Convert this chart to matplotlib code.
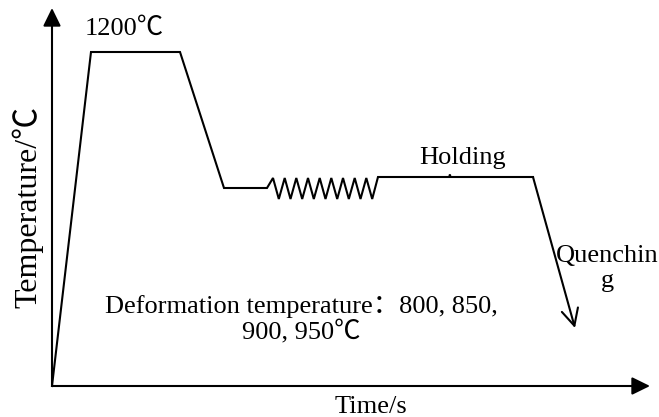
import matplotlib.pyplot as plt
from matplotlib.patches import Rectangle

# schematic thermal route, drawn in canvas units (x right, y down)
route_t = [52, 91, 180, 224, 267,
           273, 278.8, 284.7, 290.5, 296.3, 302.2, 308, 313.8, 319.7, 325.5,
           331.3, 337.2, 343, 348.8, 354.7, 360.5, 366.3, 372.2, 378,
           533]
route_T = [386, 52, 52, 188, 188,
           178, 199, 178, 199, 178, 199, 178, 199, 178, 199,
           178, 199, 178, 199, 178, 199, 178, 199, 177,
           177]

quench_start = (533, 177)
quench_end = (575, 328)

origin = (52, 386)
t_axis_end = (650, 386)
T_axis_end = (52, 8)

serif = ['Liberation Serif', 'Noto Sans CJK SC']
fs = 19

fig = plt.figure(figsize=(6.59, 4.17), dpi=100)
ax = fig.add_axes([0, 0, 1, 1])
ax.set_xlim(0, 659)
ax.set_ylim(417, 0)
ax.axis('off')

# axes with filled arrowheads
axis_arrow = dict(arrowstyle='-|>,head_length=0.55,head_width=0.27', lw=1.5,
                  color='black', shrinkA=0, shrinkB=0, mutation_scale=20)
ax.annotate('', xy=t_axis_end, xytext=origin, arrowprops=axis_arrow, zorder=4)
ax.annotate('', xy=T_axis_end, xytext=origin, arrowprops=axis_arrow, zorder=4)

ax.plot(route_t, route_T, color='black', lw=1.5, solid_joinstyle='miter', zorder=3)

ax.annotate('', xy=quench_end, xytext=quench_start, zorder=3,
            arrowprops=dict(arrowstyle='->,head_length=0.6,head_width=0.3', lw=1.5,
                            color='black', shrinkA=0, shrinkB=0, mutation_scale=20))

ax.text(124, 29, '1200℃', family=serif, fontsize=fs, ha='center', va='center')
ax.text(463, 191, 'Holding\ntime', family=serif, fontsize=fs, ha='center',
        va='baseline', linespacing=1.3, zorder=2)
# second line of the holding label sits under the route line
ax.add_patch(Rectangle((425, 177), 80, 30, facecolor='white', edgecolor='none', zorder=2.5))

ax.text(607, 245, 'Quenchin\ng', family=serif, fontsize=fs, ha='center', va='top',
        multialignment='center', linespacing=1.15)
ax.text(301, 295, 'Deformation temperature：800, 850,\n900, 950℃', family=serif,
        fontsize=fs, ha='center', va='top', multialignment='center', linespacing=1.15)
ax.text(371, 407, 'Time/s', family=serif, fontsize=fs, ha='center', va='center')
ax.text(28, 207, 'Temperature/℃', family=serif, fontsize=23, rotation=90,
        ha='center', va='center')

fig.savefig('out.png', dpi=100)
